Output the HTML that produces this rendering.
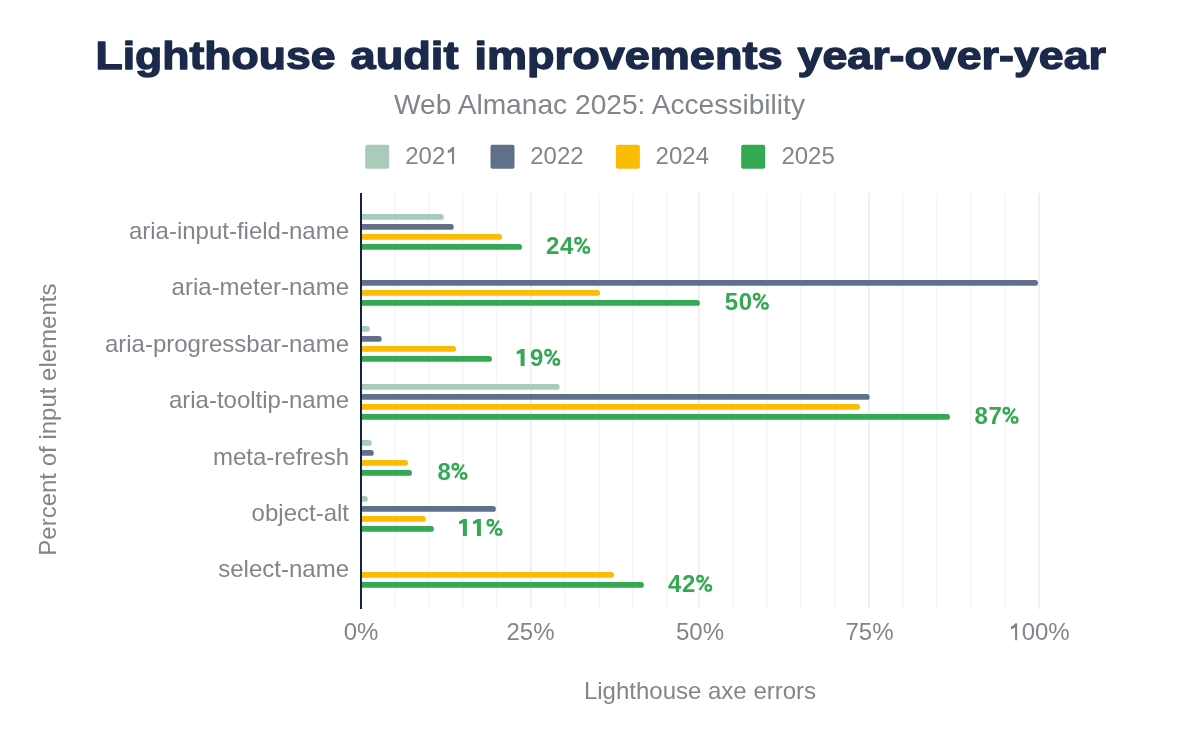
<!DOCTYPE html>
<html><head><meta charset="utf-8"><title>Lighthouse audit improvements year-over-year</title>
<style>
html,body{margin:0;padding:0;background:#fff;}
body{width:1200px;height:742px;overflow:hidden;}
svg{display:block;will-change:transform;}
text{font-family:"Liberation Sans",sans-serif;}
</style></head><body>
<svg width="1200" height="742" viewBox="0 0 1200 742">
<rect width="1200" height="742" fill="#fff"/>

<text x="95.50" y="68.7" font-size="38.8" font-weight="700" fill="#1b2a4a" stroke="#1b2a4a" stroke-width="1.3" stroke-linejoin="round" textLength="240.02" lengthAdjust="spacingAndGlyphs">Lighthouse</text>
<text x="350.50" y="68.7" font-size="38.8" font-weight="700" fill="#1b2a4a" stroke="#1b2a4a" stroke-width="1.3" stroke-linejoin="round" textLength="108.00" lengthAdjust="spacingAndGlyphs">audit</text>
<text x="474.50" y="68.7" font-size="38.8" font-weight="700" fill="#1b2a4a" stroke="#1b2a4a" stroke-width="1.3" stroke-linejoin="round" textLength="308.02" lengthAdjust="spacingAndGlyphs">improvements</text>
<text x="797.50" y="68.7" font-size="38.8" font-weight="700" fill="#1b2a4a" stroke="#1b2a4a" stroke-width="1.3" stroke-linejoin="round" textLength="308.51" lengthAdjust="spacingAndGlyphs">year-over-year</text>
<text x="394" y="114.4" font-size="28" fill="#80868b" textLength="411" lengthAdjust="spacingAndGlyphs">Web Almanac 2025: Accessibility</text>
<rect x="365.2" y="144.8" width="24" height="24" rx="2" fill="#a9cbba"/>
<text x="405.20" y="164" font-size="24" fill="#80868b">202</text>
<path d="M447.80,150.60 Q450.60,149.50 452.30,147.00 L454.10,147.00 L454.10,164.00 L452.00,164.00 L452.00,151.40 Q450.20,152.60 447.80,153.00 Z" fill="#80868b"/>
<rect x="490.5" y="144.8" width="24" height="24" rx="2" fill="#60708a"/>
<text x="530.20" y="164" font-size="24" fill="#80868b">2022</text>
<rect x="615.9" y="144.8" width="24" height="24" rx="2" fill="#fbbc04"/>
<text x="655.60" y="164" font-size="24" fill="#80868b">2024</text>
<rect x="741.2" y="144.8" width="24" height="24" rx="2" fill="#34a853"/>
<text x="781.40" y="164" font-size="24" fill="#80868b">2025</text>
<rect x="394.20" y="193" width="1.6" height="416" fill="#f6f6f6"/>
<rect x="428.00" y="193" width="1.6" height="416" fill="#f6f6f6"/>
<rect x="462.00" y="193" width="1.6" height="416" fill="#f6f6f6"/>
<rect x="495.90" y="193" width="1.6" height="416" fill="#f6f6f6"/>
<rect x="530.00" y="193" width="1.6" height="416" fill="#eceeed"/>
<rect x="564.20" y="193" width="1.6" height="416" fill="#f6f6f6"/>
<rect x="598.40" y="193" width="1.6" height="416" fill="#f6f6f6"/>
<rect x="632.00" y="193" width="1.6" height="416" fill="#f6f6f6"/>
<rect x="665.90" y="193" width="1.6" height="416" fill="#f6f6f6"/>
<rect x="698.10" y="193" width="1.6" height="416" fill="#eceeed"/>
<rect x="732.00" y="193" width="1.6" height="416" fill="#f6f6f6"/>
<rect x="766.20" y="193" width="1.6" height="416" fill="#f6f6f6"/>
<rect x="800.00" y="193" width="1.6" height="416" fill="#f6f6f6"/>
<rect x="834.20" y="193" width="1.6" height="416" fill="#f6f6f6"/>
<rect x="868.00" y="193" width="1.6" height="416" fill="#eceeed"/>
<rect x="902.00" y="193" width="1.6" height="416" fill="#f6f6f6"/>
<rect x="935.90" y="193" width="1.6" height="416" fill="#f6f6f6"/>
<rect x="970.00" y="193" width="1.6" height="416" fill="#f6f6f6"/>
<rect x="1003.90" y="193" width="1.6" height="416" fill="#f6f6f6"/>
<rect x="1038.10" y="193" width="1.6" height="416" fill="#eceeed"/>
<path d="M361.0,214 H440.90 A2.90,2.90 0 0 1 440.90,219.80 H361.0 Z" fill="#a9cbba"/>
<path d="M361.0,224 H450.90 A2.90,2.90 0 0 1 450.90,229.80 H361.0 Z" fill="#60708a"/>
<path d="M361.0,234 H499.10 A2.90,2.90 0 0 1 499.10,239.80 H361.0 Z" fill="#fbbc04"/>
<path d="M361.0,244 H519.10 A2.90,2.90 0 0 1 519.10,249.80 H361.0 Z" fill="#34a853"/>
<text x="546.10" y="254" font-size="24" font-weight="700" fill="#34a853">2</text>
<text x="560.10" y="254" font-size="24" font-weight="700" fill="#34a853">4</text>
<g fill="none" stroke="#34a853" stroke-width="2.3"><ellipse cx="578.05" cy="240.70" rx="2.75" ry="2.80"/><ellipse cx="586.35" cy="249.90" rx="2.75" ry="2.80"/><path d="M577.70,251.80 L586.60,238.70" stroke-width="2.1"/></g>
<text x="349" y="239.00" font-size="24" fill="#80868b" text-anchor="end">aria-input-field-name</text>
<path d="M361.0,280 H1035.10 A2.90,2.90 0 0 1 1035.10,285.80 H361.0 Z" fill="#60708a"/>
<path d="M361.0,290 H597.10 A2.90,2.90 0 0 1 597.10,295.80 H361.0 Z" fill="#fbbc04"/>
<path d="M361.0,300 H697.00 A2.90,2.90 0 0 1 697.00,305.80 H361.0 Z" fill="#34a853"/>
<text x="724.70" y="310" font-size="24" font-weight="700" fill="#34a853">5</text>
<text x="738.70" y="310" font-size="24" font-weight="700" fill="#34a853">0</text>
<g fill="none" stroke="#34a853" stroke-width="2.3"><ellipse cx="756.65" cy="296.70" rx="2.75" ry="2.80"/><ellipse cx="764.95" cy="305.90" rx="2.75" ry="2.80"/><path d="M756.30,307.80 L765.20,294.70" stroke-width="2.1"/></g>
<text x="349" y="295.40" font-size="24" fill="#80868b" text-anchor="end">aria-meter-name</text>
<path d="M361.0,326 H366.90 A2.90,2.90 0 0 1 366.90,331.80 H361.0 Z" fill="#a9cbba"/>
<path d="M361.0,336 H378.80 A2.90,2.90 0 0 1 378.80,341.80 H361.0 Z" fill="#60708a"/>
<path d="M361.0,346 H453.10 A2.90,2.90 0 0 1 453.10,351.80 H361.0 Z" fill="#fbbc04"/>
<path d="M361.0,356 H489.10 A2.90,2.90 0 0 1 489.10,361.80 H361.0 Z" fill="#34a853"/>
<path d="M516.70,351.50 L521.20,349.10 L524.60,349.10 L524.60,366.00 L520.60,366.00 L520.60,353.20 L516.70,354.20 Z" fill="#34a853"/>
<text x="530.10" y="366" font-size="24" font-weight="700" fill="#34a853">9</text>
<g fill="none" stroke="#34a853" stroke-width="2.3"><ellipse cx="548.05" cy="352.70" rx="2.75" ry="2.80"/><ellipse cx="556.35" cy="361.90" rx="2.75" ry="2.80"/><path d="M547.70,363.80 L556.60,350.70" stroke-width="2.1"/></g>
<text x="349" y="351.80" font-size="24" fill="#80868b" text-anchor="end">aria-progressbar-name</text>
<path d="M361.0,384 H556.80 A2.90,2.90 0 0 1 556.80,389.80 H361.0 Z" fill="#a9cbba"/>
<path d="M361.0,394 H866.80 A2.90,2.90 0 0 1 866.80,399.80 H361.0 Z" fill="#60708a"/>
<path d="M361.0,404 H857.10 A2.90,2.90 0 0 1 857.10,409.80 H361.0 Z" fill="#fbbc04"/>
<path d="M361.0,414 H947.10 A2.90,2.90 0 0 1 947.10,419.80 H361.0 Z" fill="#34a853"/>
<text x="974.40" y="424" font-size="24" font-weight="700" fill="#34a853">8</text>
<text x="988.40" y="424" font-size="24" font-weight="700" fill="#34a853">7</text>
<g fill="none" stroke="#34a853" stroke-width="2.3"><ellipse cx="1006.35" cy="410.70" rx="2.75" ry="2.80"/><ellipse cx="1014.65" cy="419.90" rx="2.75" ry="2.80"/><path d="M1006.00,421.80 L1014.90,408.70" stroke-width="2.1"/></g>
<text x="349" y="408.20" font-size="24" fill="#80868b" text-anchor="end">aria-tooltip-name</text>
<path d="M361.0,440 H368.90 A2.90,2.90 0 0 1 368.90,445.80 H361.0 Z" fill="#a9cbba"/>
<path d="M361.0,450 H370.90 A2.90,2.90 0 0 1 370.90,455.80 H361.0 Z" fill="#60708a"/>
<path d="M361.0,460 H405.10 A2.90,2.90 0 0 1 405.10,465.80 H361.0 Z" fill="#fbbc04"/>
<path d="M361.0,470 H409.10 A2.90,2.90 0 0 1 409.10,475.80 H361.0 Z" fill="#34a853"/>
<text x="437.40" y="480" font-size="24" font-weight="700" fill="#34a853">8</text>
<g fill="none" stroke="#34a853" stroke-width="2.3"><ellipse cx="455.35" cy="466.70" rx="2.75" ry="2.80"/><ellipse cx="463.65" cy="475.90" rx="2.75" ry="2.80"/><path d="M455.00,477.80 L463.90,464.70" stroke-width="2.1"/></g>
<text x="349" y="464.60" font-size="24" fill="#80868b" text-anchor="end">meta-refresh</text>
<path d="M361.0,496 H365.00 A2.90,2.90 0 0 1 365.00,501.80 H361.0 Z" fill="#a9cbba"/>
<path d="M361.0,506 H493.00 A2.90,2.90 0 0 1 493.00,511.80 H361.0 Z" fill="#60708a"/>
<path d="M361.0,516 H423.00 A2.90,2.90 0 0 1 423.00,521.80 H361.0 Z" fill="#fbbc04"/>
<path d="M361.0,526 H431.00 A2.90,2.90 0 0 1 431.00,531.80 H361.0 Z" fill="#34a853"/>
<path d="M459.00,521.50 L463.50,519.10 L466.90,519.10 L466.90,536.00 L462.90,536.00 L462.90,523.20 L459.00,524.20 Z" fill="#34a853"/>
<path d="M473.00,521.50 L477.50,519.10 L480.90,519.10 L480.90,536.00 L476.90,536.00 L476.90,523.20 L473.00,524.20 Z" fill="#34a853"/>
<g fill="none" stroke="#34a853" stroke-width="2.3"><ellipse cx="490.35" cy="522.70" rx="2.75" ry="2.80"/><ellipse cx="498.65" cy="531.90" rx="2.75" ry="2.80"/><path d="M490.00,533.80 L498.90,520.70" stroke-width="2.1"/></g>
<text x="349" y="521.00" font-size="24" fill="#80868b" text-anchor="end">object-alt</text>
<path d="M361.0,572 H611.20 A2.90,2.90 0 0 1 611.20,577.80 H361.0 Z" fill="#fbbc04"/>
<path d="M361.0,582 H641.00 A2.90,2.90 0 0 1 641.00,587.80 H361.0 Z" fill="#34a853"/>
<text x="668.10" y="592" font-size="24" font-weight="700" fill="#34a853">4</text>
<text x="682.10" y="592" font-size="24" font-weight="700" fill="#34a853">2</text>
<g fill="none" stroke="#34a853" stroke-width="2.3"><ellipse cx="700.05" cy="578.70" rx="2.75" ry="2.80"/><ellipse cx="708.35" cy="587.90" rx="2.75" ry="2.80"/><path d="M699.70,589.80 L708.60,576.70" stroke-width="2.1"/></g>
<text x="349" y="577.40" font-size="24" fill="#80868b" text-anchor="end">select-name</text>
<rect x="360" y="193" width="2" height="416" fill="#132340"/>
<text x="361.00" y="640.2" font-size="24" fill="#80868b" text-anchor="middle">0%</text>
<text x="530.50" y="640.2" font-size="24" fill="#80868b" text-anchor="middle">25%</text>
<text x="700.00" y="640.2" font-size="24" fill="#80868b" text-anchor="middle">50%</text>
<text x="869.50" y="640.2" font-size="24" fill="#80868b" text-anchor="middle">75%</text>
<path d="M1010.86,626.80 Q1013.66,625.70 1015.36,623.20 L1017.16,623.20 L1017.16,640.20 L1015.06,640.20 L1015.06,627.60 Q1013.26,628.80 1010.86,629.20 Z" fill="#80868b"/>
<text x="1021.66" y="640.2" font-size="24" fill="#80868b">00%</text>
<text x="700" y="699" font-size="24" fill="#80868b" text-anchor="middle">Lighthouse axe errors</text>
<text transform="translate(56,419.6) rotate(-90)" x="0" y="0" font-size="24" fill="#80868b" text-anchor="middle">Percent of input elements</text>
</svg>
</body></html>
